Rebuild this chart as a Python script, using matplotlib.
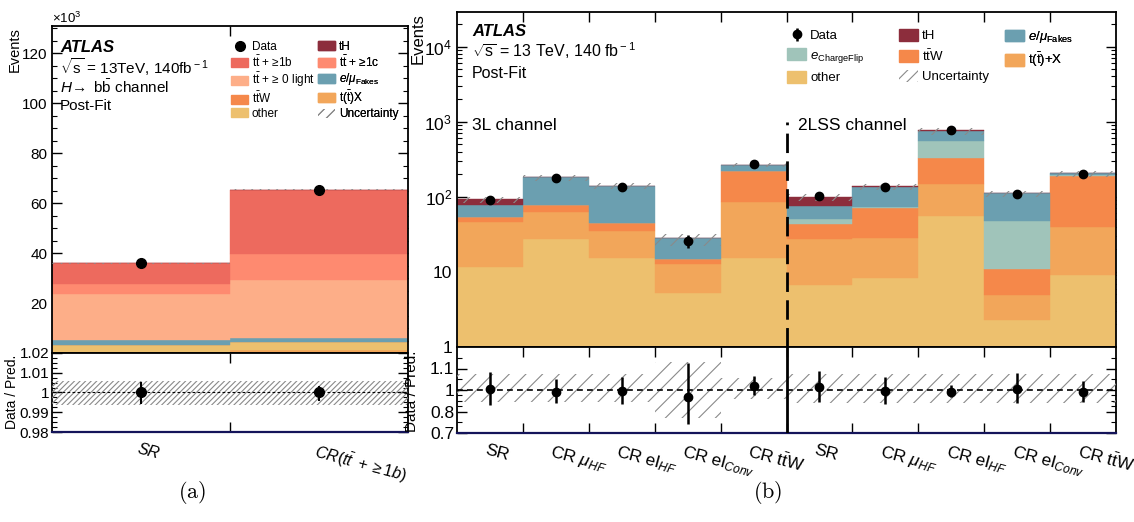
import numpy as np
import matplotlib
matplotlib.use("Agg")
import matplotlib.pyplot as plt
from matplotlib.patches import Patch
from matplotlib.lines import Line2D
from matplotlib.ticker import FixedLocator, MultipleLocator, FuncFormatter, LogLocator, NullFormatter

plt.rcParams['font.family'] = ['Liberation Sans', 'DejaVu Sans']
plt.rcParams['mathtext.fontset'] = 'custom'
plt.rcParams['mathtext.rm'] = 'Liberation Sans'
plt.rcParams['mathtext.it'] = 'Liberation Sans:italic'
plt.rcParams['mathtext.bf'] = 'Liberation Sans:bold'
plt.rcParams['mathtext.sf'] = 'Liberation Sans'
plt.rcParams['hatch.linewidth'] = 0.8
plt.rcParams['axes.linewidth'] = 1.3

# ---------------- colours ----------------
C_TT1B = '#ED6A5E'
C_TT1C = '#FE8A70'
C_TTL = '#FDAE88'
C_TTW = '#F5884A'
C_OTHER = '#EDC06E'
C_TH = '#8C2D3C'
C_FAKE = '#6B9FB0'
C_TX = '#F2A65A'
C_QMIS = '#A0C4BA'
C_HATCH = '#8a8a8a'

# ---------------- (a) H -> bb channel, events in units of 10^3 ----------------
regions_a = ["SR", r"$CR(t\bar{t}\ +\geq1b)$"]
tX_a = [0.3, 1.1]
other_a = [3.0, 3.2]
ttW_a = [0.1, 0.1]
fakes_a = [1.8, 1.6]
ttlight_a = [18.4, 23.3]
tt1c_a = [4.0, 10.3]
tt1b_a = [8.3, 25.7]
tH_a = [0.05, 0.05]
data_a = [35.9, 65.1]
ratio_a = [1.0, 1.0]
ratio_a_lo = [0.9944, 0.9957]
ratio_a_hi = [1.0051, 1.0035]
band_a_lo = [0.9935, 0.9935]
band_a_hi = [1.0056, 1.0056]

# ---------------- (b) 3L and 2LSS channels ----------------
regions_b = ["SR", r"CR $\mu_{HF}$", r"CR el$_{HF}$", r"CR el$_{Conv}$", r"CR t$\bar{\rm t}$W",
             "SR", r"CR $\mu_{HF}$", r"CR el$_{HF}$", r"CR el$_{Conv}$", r"CR t$\bar{\rm t}$W"]
other_b = [11.7, 27.3, 15.4, 5.3, 15.4, 6.6, 8.4, 55.3, 2.3, 9.0]
tX_b = [34.7, 35.7, 19.5, 7.4, 70.4, 20.7, 20.0, 92.7, 2.6, 30.4]
ttW_b = [7.7, 14.5, 9.3, 2.1, 136.2, 15.5, 42.9, 183.0, 5.9, 149.6]
qmis_b = [0.0, 0.0, 0.0, 0.0, 0.0, 7.6, 1.0, 222.0, 36.6, 5.0]
fakes_b = [23.4, 103.5, 94.8, 13.1, 43.0, 24.8, 63.7, 206.0, 63.6, 11.0]
tH_b = [14.8, 2.0, 1.5, 0.5, 2.0, 24.8, 2.0, 4.0, 0.5, 1.5]
data_b = [90, 176, 136, 26, 269, 101, 137, 765, 110, 203]
ratio_b = [1.003, 0.984, 0.99, 0.935, 1.02, 1.014, 0.99, 0.984, 1.005, 0.984]
ratio_b_lo = [0.861, 0.876, 0.867, 0.742, 0.953, 0.888, 0.87, 0.932, 0.876, 0.886]
ratio_b_hi = [1.082, 1.05, 1.059, 1.126, 1.067, 1.09, 1.059, 1.022, 1.078, 1.043]
band_b_lo = [0.89, 0.89, 0.89, 0.77, 0.92, 0.88, 0.88, 0.88, 0.88, 0.88]
band_b_hi = [1.075, 1.075, 1.075, 1.13, 1.055, 1.075, 1.075, 1.075, 1.075, 1.075]

W, H = 1134, 522
fig = plt.figure(figsize=(W / 100, H / 100), dpi=100)


def fx(px):
    return px / W


def fy(py):
    return 1 - py / H


axA = fig.add_axes([fx(52), fy(353), (408 - 52) / W, (353 - 26) / H])
axAr = fig.add_axes([fx(52), fy(432), (408 - 52) / W, (432 - 353) / H])
axB = fig.add_axes([fx(457), fy(347), (1116 - 457) / W, (347 - 12) / H])
axBr = fig.add_axes([fx(457), fy(433), (1116 - 457) / W, (433 - 347) / H])


def stack(ax, comps):
    n = len(comps[0][0])
    x = np.arange(n)
    bottom = np.zeros(n)
    for vals, col in comps:
        vals = np.asarray(vals, dtype=float)
        ax.bar(x, vals, bottom=bottom, width=1.0, align='edge', color=col,
               edgecolor=col, linewidth=0.3, zorder=2)
        bottom = bottom + vals
    return bottom


def hatch_band(ax, lo, hi, pattern):
    n = len(lo)
    lo = np.asarray(lo, dtype=float)
    hi = np.asarray(hi, dtype=float)
    ax.bar(np.arange(n), hi - lo, bottom=lo, width=1.0, align='edge', fill=False,
           hatch=pattern, edgecolor=C_HATCH, linewidth=0, zorder=3)


def style_axis(ax):
    ax.tick_params(which='both', direction='in', top=True, right=True, colors='black')
    ax.tick_params(which='major', length=7, width=1.0)
    ax.tick_params(which='minor', length=3.5, width=0.8)


# ======================= panel (a) =======================
tot_a = stack(axA, [(tX_a, C_TX), (other_a, C_OTHER), (ttW_a, C_TTW), (fakes_a, C_FAKE),
                    (ttlight_a, C_TTL), (tt1c_a, C_TT1C), (tt1b_a, C_TT1B), (tH_a, C_TH)])
hatch_band(axA, tot_a * 0.997, tot_a * 1.003, '////')
xa = np.arange(len(data_a)) + 0.5
axA.errorbar(xa, data_a, yerr=np.sqrt(np.array(data_a) * 1000) / 1000, fmt='o', ms=7,
             color='black', elinewidth=1.5, capsize=0, zorder=5)
axA.set_xlim(0, 2)
axA.set_ylim(0, 131)
axA.xaxis.set_major_locator(FixedLocator([1]))
axA.xaxis.set_major_formatter(NullFormatter())
axA.yaxis.set_major_locator(FixedLocator([20, 40, 60, 80, 100, 120]))
axA.yaxis.set_minor_locator(MultipleLocator(5))
axA.yaxis.set_major_formatter(FuncFormatter(lambda v, p: '%d' % v))
style_axis(axA)
axA.tick_params(axis='y', labelsize=11)

hatch_band(axAr, band_a_lo, band_a_hi, '//////')
axAr.axhline(1.0, color='black', ls=(0, (2.5, 2)), lw=0.8, zorder=4)
axAr.errorbar(xa, ratio_a, yerr=[np.array(ratio_a) - np.array(ratio_a_lo),
                                 np.array(ratio_a_hi) - np.array(ratio_a)],
              fmt='o', ms=7, color='black', elinewidth=1.5, capsize=0, zorder=5)
axAr.set_xlim(0, 2)
axAr.set_ylim(0.98, 1.02)
axAr.xaxis.set_major_locator(FixedLocator([1]))
axAr.xaxis.set_major_formatter(NullFormatter())
axAr.yaxis.set_major_locator(FixedLocator([0.98, 0.99, 1.0, 1.01, 1.02]))
axAr.yaxis.set_minor_locator(MultipleLocator(0.0025))
axAr.yaxis.set_major_formatter(FuncFormatter(lambda v, p: '%g' % round(v, 3)))
style_axis(axAr)
axAr.tick_params(axis='y', labelsize=11, pad=2)
axAr.spines['bottom'].set_color('#14145a')
axAr.spines['bottom'].set_linewidth(1.6)
for i, lab in enumerate(regions_a):
    axAr.annotate(lab, xy=(i + 0.5, 0), xycoords=('data', 'axes fraction'),
                  xytext=(-1, -7), textcoords='offset points', ha='left', va='top',
                  rotation=-15, rotation_mode='anchor', fontsize=11.5, fontstyle='italic')

# ======================= panel (b) =======================
tot_b = stack(axB, [(other_b, C_OTHER), (tX_b, C_TX), (ttW_b, C_TTW), (qmis_b, C_QMIS),
                    (fakes_b, C_FAKE), (tH_b, C_TH)])
hatch_band(axB, tot_b * np.array(band_b_lo), tot_b * np.array(band_b_hi), '//')
xb = np.arange(len(data_b)) + 0.5
eb = axB.errorbar(xb, data_b, yerr=np.sqrt(data_b), fmt='o', ms=6, color='black',
                  elinewidth=1.8, capsize=0, zorder=5)
axB.set_yscale('log')
axB.set_xlim(0, 10)
axB.set_ylim(1, 10 ** 4.46)
axB.plot([5, 5], [1, 1000], color='black', lw=2, ls=(0, (7, 3)), zorder=6)
axB.xaxis.set_major_locator(FixedLocator(np.arange(1, 10)))
axB.xaxis.set_major_formatter(NullFormatter())
axB.yaxis.set_major_locator(LogLocator(base=10, numticks=10))
axB.yaxis.set_minor_locator(LogLocator(base=10, subs=np.arange(2, 10), numticks=30))
axB.yaxis.set_minor_formatter(NullFormatter())


def logfmt(v, p):
    if abs(v - 1) < 1e-9:
        return '1'
    if abs(v - 10) < 1e-9:
        return '10'
    return r'$10^{%d}$' % int(round(np.log10(v)))


axB.yaxis.set_major_formatter(FuncFormatter(logfmt))
style_axis(axB)
axB.tick_params(axis='y', labelsize=12.5)

# ratio panel with labelled ticks 0.7, 0.8, 1, 1.1 spaced evenly
knots_v = [0.6, 0.7, 0.8, 1.0, 1.1, 1.2, 1.3]
knots_u = [-1, 0, 1, 2, 3, 4, 5]
axBr.set_yscale('function', functions=(lambda v: np.interp(v, knots_v, knots_u),
                                       lambda u: np.interp(u, knots_u, knots_v)))
hatch_band(axBr, band_b_lo, band_b_hi, '//')
axBr.axhline(1.0, color='black', ls=(0, (3.5, 2.5)), lw=1.2, zorder=4)
axBr.errorbar(xb, ratio_b, yerr=[np.array(ratio_b) - np.array(ratio_b_lo),
                                 np.array(ratio_b_hi) - np.array(ratio_b)],
              fmt='o', ms=6, color='black', elinewidth=1.8, capsize=0, zorder=5)
axBr.axvline(5, color='black', lw=2, zorder=6)
axBr.set_xlim(0, 10)
axBr.set_ylim(0.7, 1.2)
axBr.xaxis.set_major_locator(FixedLocator(np.arange(1, 10)))
axBr.xaxis.set_major_formatter(NullFormatter())
axBr.yaxis.set_major_locator(FixedLocator([0.7, 0.8, 1.0, 1.1]))
axBr.yaxis.set_minor_locator(FixedLocator([0.75, 0.85, 0.9, 0.95, 1.05, 1.15]))
axBr.yaxis.set_major_formatter(FuncFormatter(lambda v, p: '%g' % round(v, 2)))
axBr.yaxis.set_minor_formatter(NullFormatter())
style_axis(axBr)
axBr.tick_params(axis='y', labelsize=12.5, pad=2)
axBr.spines['bottom'].set_color('#14145a')
axBr.spines['bottom'].set_linewidth(1.6)
for i, lab in enumerate(regions_b):
    axBr.annotate(lab, xy=(i + 0.5, 0), xycoords=('data', 'axes fraction'),
                  xytext=(-2, -7), textcoords='offset points', ha='left', va='top',
                  rotation=-15, rotation_mode='anchor', fontsize=12.5)

# ---------------- legends ----------------
unc_handle = Patch(facecolor='none', edgecolor=C_HATCH, hatch='///', linewidth=0)


def legend_column(ax, handles, labels, x_px, y_px, fs, spacing, hh=1.0):
    leg = ax.legend(handles, labels, loc='upper left',
                    bbox_to_anchor=(fx(x_px), fy(y_px)), bbox_transform=fig.transFigure,
                    frameon=False, fontsize=fs, borderpad=0, borderaxespad=0,
                    handlelength=1.45, handleheight=hh, handletextpad=0.3,
                    labelspacing=spacing)
    ax.add_artist(leg)


dot = Line2D([], [], marker='o', color='black', ls='none', ms=7)
legend_column(axA, [dot, Patch(color=C_TT1B), Patch(color=C_TTL), Patch(color=C_TTW),
                    Patch(color=C_OTHER)],
              ["Data", r"t$\bar{\rm t}$ + ≥1b", r"t$\bar{\rm t}$ + ≥ 0 light", r"t$\bar{\rm t}$W", "other"],
              231, 41, 8.5, 0.12, 0.8)
legend_column(axA, [Patch(color=C_TH), Patch(color=C_TT1C), Patch(color=C_FAKE),
                    Patch(color=C_TX), unc_handle],
              ["tH", r"t$\bar{\rm t}$ + ≥1c", r"$e/\mu_{\rm Fakes}$", r"t($\bar{\rm t}$)X", "Uncertainty"],
              318, 41, 8.5, 0.12, 0.8)

legend_column(axB, [eb, Patch(color=C_QMIS), Patch(color=C_OTHER)],
              ["Data", r"$e_{\rm ChargeFlip}$", "other"], 787, 29, 9.5, 0.45)
legend_column(axB, [Patch(color=C_TH), Patch(color=C_TTW), unc_handle],
              ["tH", r"t$\bar{\rm t}$W", "Uncertainty"], 899, 29, 9.5, 0.45)
legend_column(axB, [Patch(color=C_FAKE), Patch(color=C_TX)],
              [r"$e/\mu_{\rm Fakes}$", r"t($\bar{\rm t}$)+X"], 1005, 29, 9.5, 0.45)

# ---------------- labels and annotations ----------------
fig.text(fx(60), fy(47), "ATLAS", fontsize=12, fontweight='bold', fontstyle='italic', va='center')
fig.text(fx(60), fy(67), r"$\sqrt{\rm s}$ = 13TeV, 140fb$^{\rm -1}$", fontsize=11, va='center')
fig.text(fx(60), fy(87), r"$H\!\rightarrow$ b$\bar{\rm b}$ channel", fontsize=11, va='center')
fig.text(fx(60), fy(106), "Post-Fit", fontsize=11, va='center')
fig.text(fx(52), fy(18), r"$\times10^{3}$", fontsize=9.5, va='center', ha='left')

fig.text(fx(472), fy(31), "ATLAS", fontsize=12, fontweight='bold', fontstyle='italic', va='center')
fig.text(fx(472), fy(51), r"$\sqrt{\rm s}$ = 13 TeV, 140 fb$^{\rm -1}$", fontsize=11.5, va='center')
fig.text(fx(472), fy(73), "Post-Fit", fontsize=11.5, va='center')
fig.text(fx(472), fy(125), "3L channel", fontsize=12.5, va='center')
fig.text(fx(798), fy(126), "2LSS channel", fontsize=12.5, va='center')

fig.text(fx(15), fy(27), "Events", rotation=90, fontsize=10.5, ha='center', va='top')
fig.text(fx(12), fy(392), "Data / Pred.", rotation=90, fontsize=10, ha='center', va='center')
fig.text(fx(418), fy(13), "Events", rotation=90, fontsize=12, ha='center', va='top')
fig.text(fx(412), fy(391), "Data / Pred.", rotation=90, fontsize=11, ha='center', va='center')

fig.text(fx(192), fy(492), r"$\mathrm{(a)}$", fontsize=16, ha='center', va='center', math_fontfamily='cm')
fig.text(fx(768), fy(492), r"$\mathrm{(b)}$", fontsize=16, ha='center', va='center', math_fontfamily='cm')

fig.savefig("out.png", dpi=100)
